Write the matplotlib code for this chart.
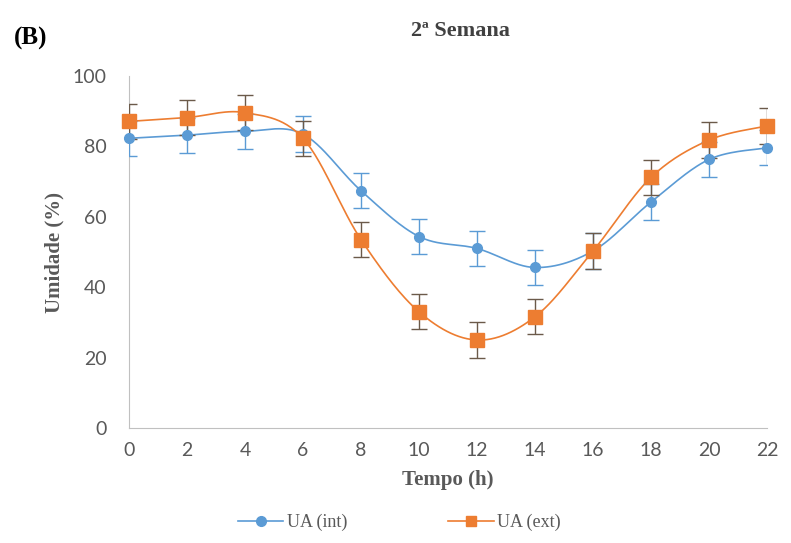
import numpy as np
import matplotlib
matplotlib.use("Agg")
import matplotlib.pyplot as plt
from matplotlib.lines import Line2D

hours = [0, 2, 4, 6, 8, 10, 12, 14, 16, 18, 20, 22]
ua_int = [82.3, 83.2, 84.3, 83.5, 67.4, 54.4, 51.0, 45.6, 50.3, 64.2, 76.3, 79.6]
ua_ext = [87.1, 88.2, 89.6, 82.3, 53.5, 33.0, 25.0, 31.6, 50.3, 71.2, 81.8, 85.8]
err_int = [5, 5, 5, 5, 5, 5, 5, 5, 5, 5, 5, 5]
err_ext = [5, 5, 5, 5, 5, 5, 5, 5, 5, 5, 5, 5]

blue = "#5B9BD5"
orange = "#ED7D31"


# excel-like smoothed line (catmull-rom through the points)
def smooth(x, y, n=30):
    x = np.asarray(x, float)
    y = np.asarray(y, float)
    px = np.concatenate([[x[0]], x, [x[-1]]])
    py = np.concatenate([[y[0]], y, [y[-1]]])
    xs, ys = [], []
    t = np.linspace(0, 1, n)
    for i in range(1, len(px) - 2):
        p0, p1, p2, p3 = (px[i-1], py[i-1]), (px[i], py[i]), (px[i+1], py[i+1]), (px[i+2], py[i+2])
        c1 = (p1[0] + (p2[0] - p0[0]) / 6, p1[1] + (p2[1] - p0[1]) / 6)
        c2 = (p2[0] - (p3[0] - p1[0]) / 6, p2[1] - (p3[1] - p1[1]) / 6)
        b = [(1-t)**3, 3*(1-t)**2*t, 3*(1-t)*t**2, t**3]
        xs.append(b[0]*p1[0] + b[1]*c1[0] + b[2]*c2[0] + b[3]*p2[0])
        ys.append(b[0]*p1[1] + b[1]*c1[1] + b[2]*c2[1] + b[3]*p2[1])
    return np.concatenate(xs), np.concatenate(ys)


fig = plt.figure(figsize=(7.91, 5.43), dpi=100)
ax = fig.add_axes([0.1631, 0.2118, 0.8066, 0.6482])

sx, sy = smooth(hours, ua_int)
ax.plot(sx, sy, color=blue, lw=1.2, zorder=2)
sx, sy = smooth(hours, ua_ext)
ax.plot(sx, sy, color=orange, lw=1.2, zorder=2)

ax.errorbar(hours, ua_int, yerr=err_int, fmt="none", ecolor=blue, elinewidth=1.0,
            capsize=5.5, capthick=1.0, zorder=3)
ax.errorbar(hours, ua_ext, yerr=err_ext, fmt="none", ecolor="#6b5a4a", elinewidth=1.0,
            capsize=5.5, capthick=1.0, zorder=3)
ax.plot(hours, ua_int, "o", color=blue, ms=7, zorder=4, clip_on=False)
ax.plot(hours, ua_ext, "s", color=orange, ms=9.5, zorder=5, clip_on=False)

ax.set_xlim(0, 22)
ax.set_ylim(0, 100)
ax.set_xticks(hours)
ax.set_yticks(range(0, 101, 20))
ax.tick_params(length=0, labelsize=14, labelcolor="#595959", pad=10)
for lab in ax.get_xticklabels() + ax.get_yticklabels():
    lab.set_fontfamily("Lato")
ax.tick_params(axis="y", pad=16)

for s in ["top", "right"]:
    ax.spines[s].set_visible(False)
ax.spines["left"].set_color("#c0c0c0")
ax.spines["bottom"].set_color("#c0c0c0")

ax.set_xlabel("Tempo (h)", fontsize=15, fontweight="bold", family="Liberation Serif",
              color="#595959", labelpad=8)
fig.text(0.069, 0.535, "Umidade (%)", rotation=90, ha="center", va="center", fontsize=15,
         fontweight="bold", family="Liberation Serif", color="#595959")

fig.text(0.582, 0.943, "2ª Semana", ha="center", va="center", fontsize=16,
         fontweight="bold", family="Liberation Serif", color="#404040")
fig.text(0.018, 0.93, "(B)", ha="left", va="center", fontsize=18,
         fontweight="bold", family="Liberation Serif", color="black")

handles = [
    Line2D([0], [0], color=blue, lw=1.2, marker="o", ms=7),
    Line2D([0], [0], color=orange, lw=1.2, marker="s", ms=7),
]
fig.legend(handles, ["UA (int)", "UA (ext)"], loc="center", bbox_to_anchor=(0.505, 0.038),
           ncol=2, frameon=False, columnspacing=5.6, handlelength=2.5, handletextpad=0.2,
           prop={"family": "Liberation Serif", "size": 13}, labelcolor="#595959")

fig.savefig("out.png", dpi=100)
